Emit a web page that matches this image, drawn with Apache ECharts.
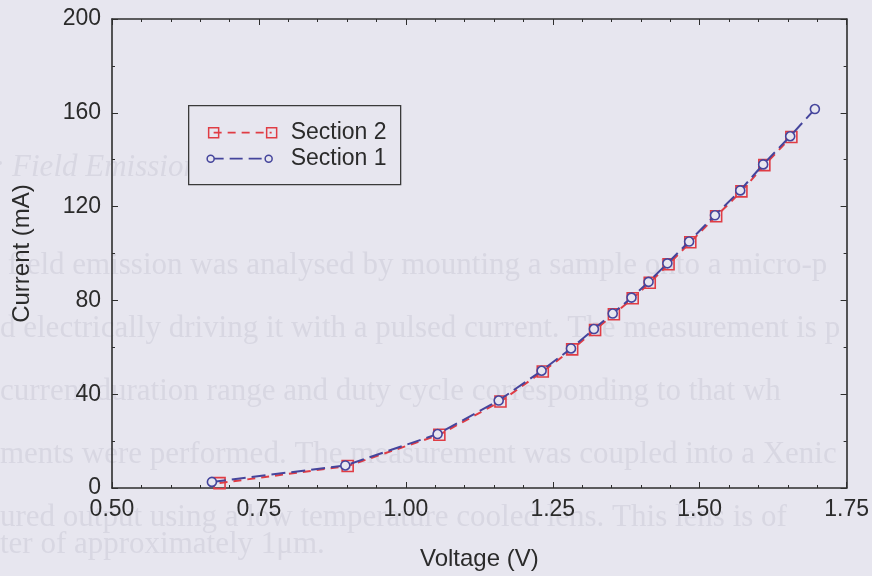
<!DOCTYPE html>
<html>
<head>
<meta charset="utf-8">
<script src="https://cdn.jsdelivr.net/npm/echarts@6/dist/echarts.min.js"></script>
<style>
html,body{margin:0;padding:0;background:#e7e6ef;}
#chart{width:872px;height:576px;}
</style>
</head>
<body>
<div id="chart"></div>
<script>
// Data
const section1Voltage = [0.670, 0.897, 1.054, 1.158, 1.231, 1.281, 1.320, 1.352, 1.384, 1.413, 1.445, 1.482, 1.526, 1.569, 1.608, 1.654, 1.696];
const section1Current = [2.6, 9.6, 23.0, 37.3, 50.0, 59.5, 67.8, 74.4, 81.2, 87.9, 95.8, 105.1, 116.3, 126.9, 138.0, 150.0, 161.6];
const section2Voltage = [0.683, 0.901, 1.057, 1.161, 1.233, 1.283, 1.322, 1.354, 1.386, 1.415, 1.447, 1.484, 1.528, 1.571, 1.610, 1.656];
const section2Current = [2.1, 9.4, 22.7, 36.9, 49.7, 59.1, 67.4, 74.1, 80.9, 87.5, 95.4, 104.8, 115.9, 126.5, 137.7, 149.7];
const seriesNames = ['Section 2', 'Section 1'];
const xTickLabels = ['0.50', '0.75', '1.00', '1.25', '1.50', '1.75'];
const yTickLabels = ['0', '40', '80', '120', '160', '200'];
const ghostLines = [
  ': Field Emission',
  ' field emission was analysed by mounting a sample onto a micro-p',
  'd electrically driving it with a pulsed current. The measurement is p',
  'current duration range and duty cycle corresponding to that wh',
  'ments were performed. The measurement was coupled into a Xenic',
  'ured output using a low temperature cooled lens. This lens is of',
  'ter of approximately 1\u03bcm.'
];

const s1 = section1Voltage.map((v, i) => [v, section1Current[i]]);
const s2 = section2Voltage.map((v, i) => [v, section2Current[i]]);

const textColor = '#2b2b2b';
const axisColor = '#2e2e2e';
const red = '#e03c44';
const blue = '#45459c';
const FONT = '"Liberation Sans", Arial, sans-serif';
const FS = 23;

const chart = echarts.init(document.getElementById('chart'));

const ghostY = [170, 268, 331, 394, 457, 520, 547];
const ghostX = [-6, 0, 0, 0, 0, 0, 0];
const ghost = ghostLines.map((t, i) => ({
  type: 'text', left: ghostX[i], top: ghostY[i] - 18, z: -10, silent: true,
  style: {
    text: t, fill: '#d8d7e2',
    font: (i === 0 ? 'italic ' : '') + '31px "Liberation Serif", "DejaVu Serif", serif'
  }
}));

const legendX = 188, legendY = 105;
const legend = {
  type: 'group', left: legendX, top: legendY, z: 100,
  children: [
    { type: 'rect', shape: { x: 0, y: 0, width: 212, height: 79 },
      style: { fill: '#e7e6ef', stroke: '#3a3a3a', lineWidth: 1.3 } },
    { type: 'line', shape: { x1: 25, y1: 27, x2: 83, y2: 27 },
      style: { stroke: red, lineWidth: 1.8, lineDash: [8, 6] } },
    { type: 'rect', shape: { x: 20, y: 22, width: 10, height: 10 },
      style: { fill: 'none', stroke: red, lineWidth: 1.5 } },
    { type: 'rect', shape: { x: 78, y: 22, width: 10, height: 10 },
      style: { fill: 'none', stroke: red, lineWidth: 1.5 } },
    { type: 'text', style: { text: seriesNames[0], x: 102, y: 27, verticalAlign: 'middle',
      font: FS + 'px ' + FONT, fill: textColor } },
    { type: 'line', shape: { x1: 22, y1: 53, x2: 80, y2: 53 },
      style: { stroke: blue, lineWidth: 1.8, lineDash: [13, 6] } },
    { type: 'circle', shape: { cx: 22, cy: 53, r: 3.5 },
      style: { fill: '#e7e6ef', stroke: blue, lineWidth: 1.5 } },
    { type: 'circle', shape: { cx: 80, cy: 53, r: 3.5 },
      style: { fill: '#e7e6ef', stroke: blue, lineWidth: 1.5 } },
    { type: 'text', style: { text: seriesNames[1], x: 102, y: 53, verticalAlign: 'middle',
      font: FS + 'px ' + FONT, fill: textColor } }
  ]
};

const labelStyle = { color: textColor, fontSize: FS, fontFamily: FONT };
const nameStyle = { color: textColor, fontSize: 24, fontFamily: FONT };

chart.setOption({
  backgroundColor: '#e7e6ef',
  animation: false,
  grid: { left: 112, right: 25, top: 19, bottom: 87, show: false },
  graphic: ghost.concat([legend]),
  xAxis: [{
    type: 'value', min: 0.5, max: 1.75, interval: 0.25,
    name: 'Voltage (V)', nameLocation: 'middle', nameGap: 59,
    nameTextStyle: nameStyle,
    axisLine: { show: true, onZero: false, lineStyle: { color: axisColor, width: 1.6 } },
    axisTick: { show: true, inside: true, length: 6, lineStyle: { color: axisColor } },
    minorTick: { show: true, splitNumber: 5, length: 3, lineStyle: { color: axisColor } },
    splitLine: { show: false },
    axisLabel: Object.assign({ margin: 10, formatter: (v) => {
      const idx = Math.round((v - 0.5) / 0.25); return xTickLabels[idx] !== undefined ? xTickLabels[idx] : ''; } }, labelStyle)
  }, {
    type: 'value', position: 'top', min: 0.5, max: 1.75, interval: 0.25,
    axisLine: { show: true, onZero: false, lineStyle: { color: axisColor, width: 1.6 } },
    axisTick: { show: true, inside: true, length: 6, lineStyle: { color: axisColor } },
    minorTick: { show: true, splitNumber: 5, length: 3, lineStyle: { color: axisColor } },
    splitLine: { show: false }, axisLabel: { show: false }
  }],
  yAxis: [{
    type: 'value', min: 0, max: 200, interval: 40,
    name: 'Current (mA)', nameLocation: 'middle', nameGap: 78,
    nameTextStyle: nameStyle,
    axisLine: { show: true, onZero: false, lineStyle: { color: axisColor, width: 1.6 } },
    axisTick: { show: true, inside: true, length: 6, lineStyle: { color: axisColor } },
    minorTick: { show: true, splitNumber: 2, length: 3, lineStyle: { color: axisColor } },
    splitLine: { show: false },
    axisLabel: Object.assign({ margin: 11, formatter: (v) => {
      const idx = Math.round(v / 40); return yTickLabels[idx] !== undefined ? yTickLabels[idx] : ''; } }, labelStyle)
  }, {
    type: 'value', position: 'right', min: 0, max: 200, interval: 40,
    axisLine: { show: true, onZero: false, lineStyle: { color: axisColor, width: 1.6 } },
    axisTick: { show: true, inside: true, length: 6, lineStyle: { color: axisColor } },
    minorTick: { show: true, splitNumber: 2, length: 3, lineStyle: { color: axisColor } },
    splitLine: { show: false }, axisLabel: { show: false }
  }],
  series: [{
    name: seriesNames[1], type: 'line', data: s1, xAxisIndex: 0, yAxisIndex: 0,
    symbol: 'circle', symbolSize: 9, showSymbol: true, z: 3,
    itemStyle: { color: '#e7e6ef', borderColor: blue, borderWidth: 1.6 },
    lineStyle: { color: blue, width: 2, type: [14, 6] }
  }, {
    name: seriesNames[0], type: 'line', data: s2, xAxisIndex: 0, yAxisIndex: 0,
    symbol: 'rect', symbolSize: 11, showSymbol: true, z: 2,
    itemStyle: { color: 'rgba(0,0,0,0)', borderColor: red, borderWidth: 1.6 },
    lineStyle: { color: red, width: 2, type: [8, 6] }
  }]
});
</script>
</body>
</html>
